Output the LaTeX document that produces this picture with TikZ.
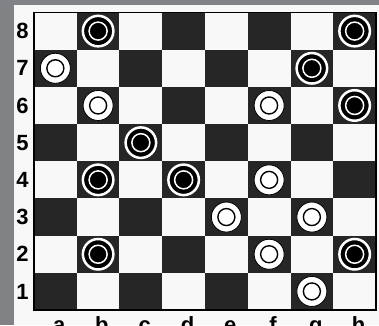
\documentclass[tikz,border=0pt]{standalone}
\usepackage{fontspec}
\setmainfont{Liberation Sans}
\definecolor{bggrey}{HTML}{808285}
\definecolor{paper}{HTML}{F8F8F8}
\definecolor{darksq}{HTML}{262626}
\begin{document}
\begin{tikzpicture}[x=42.75pt, y=37.19pt,
  font=\fontsize{22}{22}\selectfont\bfseries,
  blackman/.style={draw=white, line width=2.5pt, circle, fill=black, minimum size=30.5pt, inner sep=0pt,
    path picture={\draw[white, line width=1.5pt] (path picture bounding box.center) circle (9pt);}},
  whiteman/.style={draw=black, line width=0.8pt, circle, fill=white, minimum size=30pt, inner sep=0pt,
    path picture={\draw[black, line width=1.4pt] (path picture bounding box.center) circle (8.5pt);}},
  rank/.style={inner sep=0pt},
  file/.style={inner sep=0pt, anchor=base}]
  \useasboundingbox (-0.795,-0.403) rectangle (8.07,8.336);
  \fill[bggrey] (-0.795,-0.403) rectangle (8.07,8.336);
  \fill[paper] (-0.468,-0.403) rectangle (8.07,8.201);
  % board
  \foreach \c in {1,...,8}
    \foreach \r in {1,...,8}{
      \pgfmathparse{int(mod(\c+\r,2))}
      \ifnum\pgfmathresult=0
        \fill[darksq] (\c-1,\r-1) rectangle (\c,\r);
      \fi
    }
  \draw[black, line width=1.3pt] (0,0) rectangle (8,8);
  % ranks and files
  \foreach \r in {1,...,8}
    \node[rank] (r\r) at (-0.27,\r-0.5) {\r};
  \foreach \f [count=\c] in {a,b,c,d,e,f,g,h}
    \node[file] (f\f) at (\c-0.41,-0.6) {\f};
  % black men
  \node[blackman] (b8) at (1.5,7.5) {};
  \node[blackman] (h8) at (7.5,7.5) {};
  \node[blackman] (g7) at (6.5,6.5) {};
  \node[blackman] (h6) at (7.5,5.5) {};
  \node[blackman] (c5) at (2.5,4.5) {};
  \node[blackman] (b4) at (1.5,3.5) {};
  \node[blackman] (d4) at (3.5,3.5) {};
  \node[blackman] (b2) at (1.5,1.5) {};
  \node[blackman] (h2) at (7.5,1.5) {};
  % white men
  \node[whiteman] (a7) at (0.5,6.5) {};
  \node[whiteman] (b6) at (1.5,5.5) {};
  \node[whiteman] (f6) at (5.5,5.5) {};
  \node[whiteman] (f4) at (5.5,3.5) {};
  \node[whiteman] (e3) at (4.5,2.5) {};
  \node[whiteman] (g3) at (6.5,2.5) {};
  \node[whiteman] (f2) at (5.5,1.5) {};
  \node[whiteman] (g1) at (6.5,0.5) {};
\end{tikzpicture}
\end{document}
